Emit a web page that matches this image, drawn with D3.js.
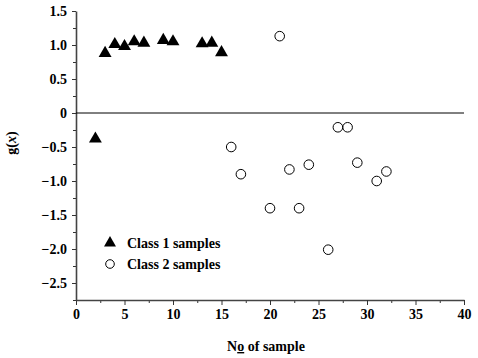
<!DOCTYPE html>
<html>
<head>
<meta charset="utf-8">
<script src="https://cdn.jsdelivr.net/npm/d3@7"></script>
<style>
  body { margin: 0; background: #fff; }
  svg text { font-family: "Liberation Serif", "Times New Roman", serif; font-weight: bold; }
</style>
</head>
<body>
<svg id="chart" width="478" height="358"></svg>
<script>
// data
const class1X = [2, 3, 4, 5, 6, 7, 9, 10, 13, 14, 15];
const class1Y = [-0.38, 0.88, 1.01, 0.98, 1.05, 1.03, 1.07, 1.05, 1.02, 1.03, 0.89];
const class2X = [16, 17, 20, 21, 22, 23, 24, 26, 27, 28, 29, 31, 32];
const class2Y = [-0.5, -0.9, -1.4, 1.13, -0.83, -1.4, -0.76, -2.01, -0.21, -0.21, -0.73, -1.0, -0.86];
const xTicks = [0, 5, 10, 15, 20, 25, 30, 35, 40];
const yTicks = [1.5, 1.0, 0.5, 0, -0.5, -1.0, -1.5, -2.0, -2.5];
const legendLabels = ["Class 1 samples", "Class 2 samples"];

const svg = d3.select("#chart");
const margin = { top: 11, right: 14, bottom: 58, left: 76 };
const width = 478 - margin.left - margin.right;
const height = 358 - margin.top - margin.bottom;

const g = svg.append("g")
    .attr("transform", "translate(" + margin.left + "," + margin.top + ")");

const x = d3.scaleLinear().domain([0, 40]).range([0, width]);
const y = d3.scaleLinear().domain([-2.75, 1.5]).range([height, 0]);

// minor ticks first so the major ones draw over them
g.append("g")
    .attr("transform", "translate(0," + height + ")")
    .call(d3.axisBottom(x).tickValues(d3.range(2.5, 40, 5)).tickSize(3).tickFormat(""))
    .call(a => a.select(".domain").remove());
g.append("g")
    .call(d3.axisLeft(y).tickValues(d3.range(-2.75, 1.5, 0.5)).tickSize(3).tickFormat(""))
    .call(a => a.select(".domain").remove());

// x axis
const xAxis = g.append("g")
    .attr("transform", "translate(0," + height + ")")
    .call(d3.axisBottom(x).tickValues(xTicks).tickSize(5).tickSizeOuter(0).tickPadding(4));

// y axis
const yAxis = g.append("g")
    .call(d3.axisLeft(y).tickValues(yTicks).tickSize(4).tickSizeOuter(0).tickPadding(5)
        .tickFormat(d => d === 0 ? "0" : d3.format(".1f")(d)));

[xAxis, yAxis].forEach(a => {
    a.selectAll("text").attr("font-size", 14).attr("fill", "#000");
    a.select(".domain").attr("stroke", "#444").attr("stroke-width", 1.6);
});
g.selectAll(".tick line").attr("stroke", "#333");

// zero line
g.append("line")
    .attr("x1", x(0)).attr("x2", x(40))
    .attr("y1", y(0)).attr("y2", y(0))
    .attr("stroke", "#000").attr("stroke-width", 1);

// class 1 triangles
const tri = d3.symbol().type(d3.symbolTriangle).size(72);
g.selectAll(".c1")
    .data(class1X.map((d, i) => [d, class1Y[i]]))
    .enter().append("path")
    .attr("class", "c1")
    .attr("d", tri)
    .attr("transform", d => "translate(" + x(d[0]) + "," + y(d[1]) + ")")
    .attr("fill", "#000");

// class 2 circles
g.selectAll(".c2")
    .data(class2X.map((d, i) => [d, class2Y[i]]))
    .enter().append("circle")
    .attr("class", "c2")
    .attr("cx", d => x(d[0]))
    .attr("cy", d => y(d[1]))
    .attr("r", 4.8)
    .attr("fill", "none")
    .attr("stroke", "#000")
    .attr("stroke-width", 1);

// legend
const legend = svg.append("g").attr("transform", "translate(110,243)");
legend.append("path").attr("d", d3.symbol().type(d3.symbolTriangle).size(62)).attr("fill", "#000");
legend.append("circle").attr("cy", 21).attr("r", 4.3)
    .attr("fill", "none").attr("stroke", "#000");
legend.selectAll("text")
    .data(legendLabels)
    .enter().append("text")
    .attr("x", 17)
    .attr("y", (d, i) => i * 21 + 5)
    .attr("font-size", 14)
    .text(d => d);

// axis titles
const xt = svg.append("text")
    .attr("x", margin.left + width / 2 - 4)
    .attr("y", 351)
    .attr("text-anchor", "middle")
    .attr("font-size", 14);
xt.append("tspan").text("N");
xt.append("tspan").attr("text-decoration", "underline").text("o");
xt.append("tspan").text(" of sample");

const yt = svg.append("text")
    .attr("transform", "translate(16,143) rotate(-90)")
    .attr("text-anchor", "middle")
    .attr("font-size", 14);
yt.append("tspan").text("g(");
yt.append("tspan").attr("font-style", "italic").text("x");
yt.append("tspan").text(")");
</script>
</body>
</html>
